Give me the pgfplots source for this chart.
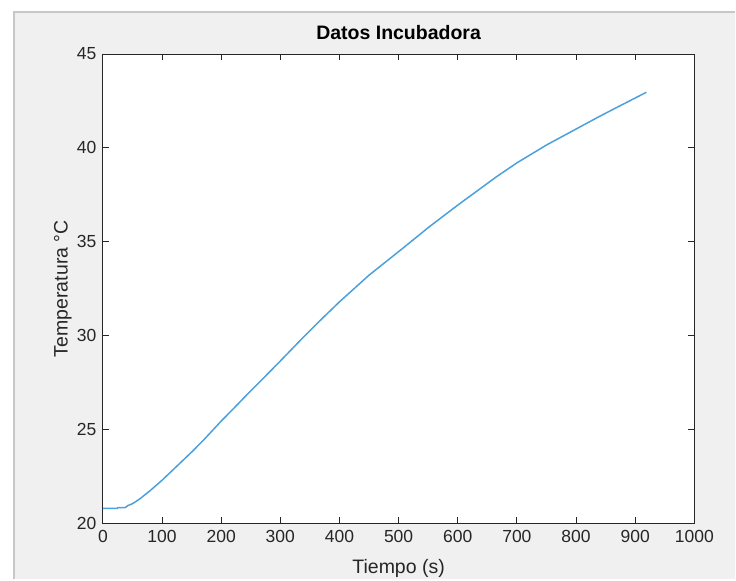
\documentclass[border=0pt]{standalone}
\usepackage{fontspec}
\setmainfont{Liberation Sans}
\usepackage{pgfplots}
\pgfplotsset{compat=1.18}
\definecolor{figgray}{RGB}{240,240,240}
\definecolor{axgray}{RGB}{38,38,38}
\definecolor{lineblue}{RGB}{75,160,222}

\begin{document}
\begin{tikzpicture}
% screenshot frame
\fill[white] (0pt,0pt) rectangle (736pt,580pt);
\fill[figgray] (14pt,0pt) rectangle (736pt,568pt);
\draw[black!22, line width=1.5pt] (14pt,0pt) -- (14pt,568pt) -- (736pt,568pt);

\begin{axis}[
    at={(103pt,56pt)},
    anchor=south west,
    scale only axis,
    width=592pt,
    height=470pt,
    xmin=0, xmax=1000,
    ymin=20, ymax=45,
    xtick distance=100,
    ytick distance=5,
    tick align=inside,
    major tick length=6pt,
    axis line style={axgray, line width=0.8pt},
    tick style={axgray, line width=0.8pt},
    axis background/.style={fill=white},
    font=\fontsize{17.5}{20}\selectfont,
    tick label style={text=axgray},
    /pgf/number format/assume math mode=true,
    /pgf/number format/1000 sep={},
    xticklabel style={yshift=-3pt},
    yticklabel style={xshift=-3pt},
    title={Datos Incubadora},
    title style={font=\fontsize{19.5}{22}\selectfont\bfseries, text=black,
        at={(axis description cs:0.5,1)}, anchor=base, yshift=8pt},
    xlabel={Tiempo (s)},
    xlabel style={font=\fontsize{19.5}{22}\selectfont, text=axgray,
        at={(axis description cs:0.5,0)}, anchor=base, yshift=-50pt},
    ylabel={Temperatura °C},
    ylabel style={font=\fontsize{19.5}{22}\selectfont, text=axgray,
        at={(axis description cs:0,0.5)}, anchor=center, yshift=40pt},
]
\addplot[lineblue, line width=1.5pt, line join=round] coordinates {
    (0,20.8) (20,20.8) (24,20.8) (26,20.85) (38,20.85) (42,20.95)
    (50,21.05) (62,21.3) (80,21.75) (100,22.3) (125,23.05)
    (150,23.8) (169,24.4) (200,25.45) (225,26.25) (248,27.0)
    (275,27.85) (300,28.65) (340,29.95) (372,30.95) (400,31.8)
    (450,33.22) (507,34.65) (552,35.8) (600,36.95) (665,38.45)
    (700,39.2) (750,40.15) (800,41.0) (840,41.68) (880,42.33)
    (919,42.96)
};
\end{axis}
\end{tikzpicture}
\end{document}
